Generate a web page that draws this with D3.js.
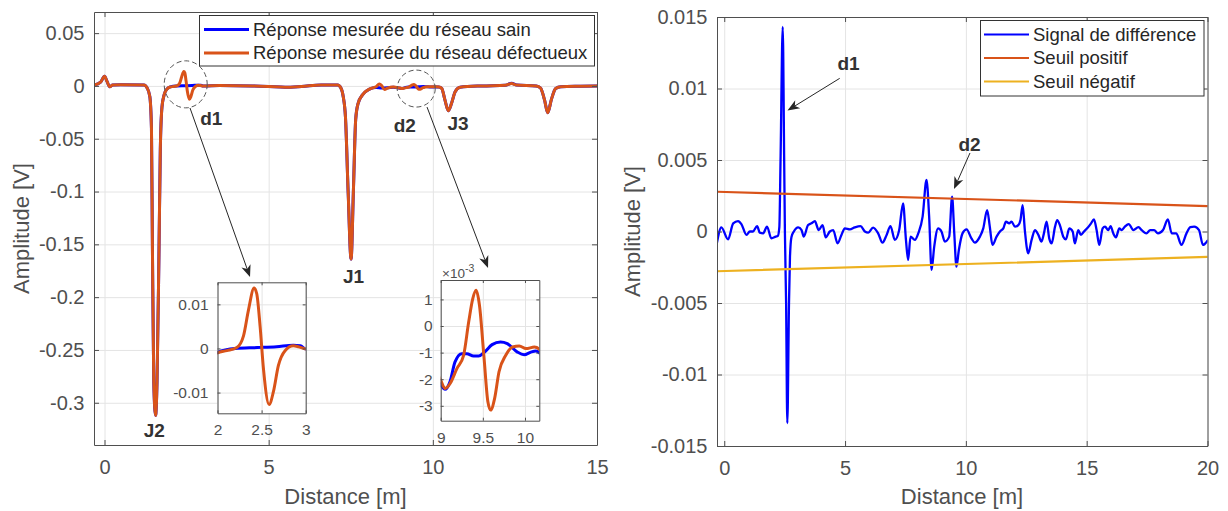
<!DOCTYPE html>
<html lang="fr">
<head>
<meta charset="utf-8">
<script src="https://cdn.jsdelivr.net/npm/d3@7/dist/d3.min.js"></script>
<style>
html,body{margin:0;padding:0;background:#fff;}
svg{display:block;}
</style>
</head>
<body>
<svg id="chart" width="1228" height="511"></svg>
<script>
// ================= DATA =================
// Left panel : measured reflectograms [distance (m), amplitude (V)]
const reseauSain = [
  [-0.32,0.0008],[-0.12,0.0035],[0.00,0.0092],[0.08,0.0040],[0.16,-0.0008],[0.25,0.0008],
  [0.50,0.0012],[1.20,0.0008],[1.30,-0.0020],[1.38,-0.0100],[1.43,-0.0400],[1.46,-0.1550],
  [1.50,-0.2800],[1.555,-0.3120],[1.60,-0.2800],[1.66,-0.1550],[1.70,-0.0600],[1.75,-0.0200],
  [1.82,-0.0080],[1.90,-0.0030],[2.00,-0.0009],[2.20,0.0000],[2.45,0.0002],[2.67,0.0004],
  [2.86,0.0007],[2.94,0.0006],[3.00,-0.0001],[3.50,0.0003],[4.50,0.0000],[5.00,-0.0005],
  [5.50,-0.0012],[6.00,-0.0005],[6.60,0.0008],[7.10,0.0008],[7.20,-0.0020],[7.27,-0.0100],
  [7.34,-0.0300],[7.42,-0.1000],[7.51,-0.1640],[7.58,-0.1000],[7.65,-0.0320],[7.72,-0.0170],
  [7.87,-0.0080],[8.07,-0.0030],[8.27,-0.0015],[8.45,-0.0020],[8.62,-0.0018],[8.80,-0.0013],
  [9.00,-0.00222],[9.05,-0.00238],[9.11,-0.0021],[9.17,-0.00135],[9.25,-0.00104],[9.31,-0.00104],
  [9.39,-0.00113],[9.45,-0.00113],[9.52,-0.00098],[9.61,-0.0007],[9.71,-0.0006],[9.79,-0.00066],
  [9.91,-0.00098],[9.99,-0.00108],[10.07,-0.00098],[10.13,-0.00094],[10.18,-0.00104],
  [10.27,-0.0023],[10.37,-0.0134],[10.47,-0.0235],[10.57,-0.0165],[10.68,-0.0055],[10.83,-0.0013],
  [11.50,0.0000],[12.20,0.0006],[12.40,0.0025],[12.55,0.0008],[13.15,0.0000],[13.28,-0.0020],
  [13.40,-0.0130],[13.50,-0.0254],[13.61,-0.0130],[13.74,-0.0025],[13.90,-0.0008],[14.50,-0.0003],
  [15.00,0.0000]
];
const reseauDefectueux = [
  [-0.32,0.0008],[-0.12,0.0035],[0.00,0.0092],[0.08,0.0040],[0.16,-0.0008],[0.25,0.0008],
  [0.50,0.0012],[1.20,0.0008],[1.30,-0.0020],[1.38,-0.0100],[1.43,-0.0400],[1.46,-0.1550],
  [1.50,-0.2800],[1.555,-0.3120],[1.60,-0.2800],[1.66,-0.1550],[1.70,-0.0600],[1.75,-0.0200],
  [1.82,-0.0080],[1.90,-0.0030],[2.00,-0.0010],[2.106,-0.0005],[2.219,0.0002],[2.294,0.0028],
  [2.351,0.0087],[2.415,0.0137],[2.445,0.0124],[2.483,0.0050],[2.521,-0.0046],[2.585,-0.0127],
  [2.634,-0.0098],[2.69,-0.0039],[2.766,-0.0005],[2.86,0.0006],[2.917,0.0004],[3.00,-0.0001],
  [3.50,0.0003],[4.50,0.0000],[5.00,-0.0005],[5.50,-0.0012],[6.00,-0.0005],[6.60,0.0008],
  [7.10,0.0008],[7.20,-0.0020],[7.27,-0.0100],[7.34,-0.0300],[7.42,-0.1000],[7.51,-0.1640],
  [7.58,-0.1000],[7.65,-0.0320],[7.72,-0.0170],[7.87,-0.0080],[8.07,-0.0030],[8.27,-0.0008],
  [8.37,0.0018],[8.45,0.0000],[8.53,-0.0035],[8.62,-0.0020],[8.80,-0.0010],[9.00,-0.00204],
  [9.052,-0.00235],[9.112,-0.00216],[9.192,-0.0016],[9.272,-0.0011],[9.332,0.00015],[9.38,0.00102],
  [9.42,0.00134],[9.46,0.00078],[9.512,-0.0011],[9.56,-0.00285],[9.592,-0.00316],[9.64,-0.00272],
  [9.692,-0.00172],[9.772,-0.0011],[9.852,-0.00079],[9.932,-0.00075],[10.012,-0.00085],
  [10.112,-0.00079],[10.184,-0.00091],[10.27,-0.0023],[10.37,-0.0134],[10.47,-0.0235],
  [10.57,-0.0165],[10.68,-0.0055],[10.83,-0.0013],[11.50,0.0000],[12.20,0.0006],[12.40,0.0022],
  [12.55,0.0008],[13.15,0.0000],[13.28,-0.0020],[13.40,-0.0130],[13.50,-0.0254],[13.61,-0.0130],
  [13.74,-0.0025],[13.90,-0.0008],[14.50,-0.0003],[15.00,0.0000]
];

// Right panel : difference signal [distance (m), amplitude (V)]
const signalDifference = [
  [-0.30,-0.00078],[-0.12,0.00029],[0.16,-0.00055],[0.37,0.00057],[0.57,0.00073],[0.71,0.00052],
  [0.92,-0.00024],[1.06,0.0],[1.19,0.0],[1.36,0.00038],[1.47,-0.00008],[1.61,-0.00013],
  [1.77,0.00034],[1.95,-0.00048],[2.13,-0.00036],[2.22,-0.0003],[2.28,0.0003],[2.33,0.005],
  [2.42,0.0143],[2.48,0.005],[2.51,0.0],[2.56,-0.005],[2.61,-0.0134],[2.68,-0.005],[2.72,-0.0018],
  [2.78,-0.0004],[2.88,0.0],[3.06,0.00029],[3.20,0.0001],[3.29,-0.00036],[3.47,0.00045],
  [3.61,0.00057],[3.75,0.00073],[3.91,0.0001],[4.07,0.00045],[4.20,-0.00041],[4.37,0.0],
  [4.51,0.0001],[4.69,-0.00083],[4.85,-0.00024],[4.99,0.00022],[5.20,0.00015],[5.40,0.00029],
  [5.64,0.00038],[5.82,0.0],[5.96,-0.00008],[6.16,0.00027],[6.37,-0.00013],[6.55,-0.00078],
  [6.72,-0.00024],[6.88,0.00038],[7.06,-0.00059],[7.24,0.0001],[7.40,0.00197],[7.52,-0.00059],
  [7.61,-0.00199],[7.71,-0.00036],[7.89,-0.00059],[8.03,-0.00013],[8.21,0.00104],[8.37,0.0036],
  [8.48,0.00104],[8.58,-0.00269],[8.69,-0.00106],[8.85,0.00022],[8.99,0.0],[9.13,-0.00071],
  [9.31,-0.00036],[9.43,0.00244],[9.52,-0.00013],[9.61,-0.00246],[9.71,-0.00129],[9.86,-0.00013],
  [10.03,0.00015],[10.23,-0.00048],[10.37,-0.00078],[10.58,-0.00036],[10.72,0.00022],[10.88,0.0015],
  [10.99,0.00034],[11.10,-0.00094],[11.27,-0.00036],[11.41,0.0],[11.55,0.00022],[11.66,0.00069],
  [11.79,0.00057],[11.89,0.00069],[12.03,0.00034],[12.17,0.00045],[12.26,0.0008],[12.35,0.00185],
  [12.44,0.0001],[12.58,-0.00153],[12.72,-0.00059],[12.86,0.0001],[13.00,-0.00024],[13.13,-0.00071],
  [13.23,-0.00013],[13.34,0.00069],[13.45,-0.00048],[13.55,-0.00083],[13.69,0.00034],[13.78,0.0008],
  [13.89,0.00045],[14.03,-0.00036],[14.14,-0.00055],[14.28,0.00022],[14.42,0.0],[14.51,-0.00083],
  [14.65,0.0001],[14.76,-0.00024],[14.89,0.0],[15.02,0.00022],[15.18,0.00057],[15.30,0.00085],
  [15.41,0.0001],[15.52,-0.00094],[15.66,0.00022],[15.76,0.00034],[15.89,0.0001],[15.99,0.00038],
  [16.10,-0.00013],[16.21,-0.00041],[16.35,0.00022],[16.45,0.0001],[16.58,0.00034],[16.74,0.00052],
  [16.93,0.0001],[17.14,0.0003],[17.30,0.00006],[17.47,-0.00013],[17.63,0.0001],[17.79,0.0001],
  [17.95,-0.00013],[18.16,0.0001],[18.36,0.00085],[18.52,-0.00013],[18.71,-0.00013],[18.92,-0.00094],
  [19.13,-0.00013],[19.29,0.0003],[19.45,0.00034],[19.65,0.0001],[19.81,-0.00094],[20.00,-0.00064]
];
const seuilDistance = [-0.3, 20];
const seuilPositif = [0.00278, 0.00178];
const seuilNegatif = [-0.00278, -0.00178];

// Tick values and labels
const gaucheXTicks = [0, 5, 10, 15];
const gaucheXLabels = ["0", "5", "10", "15"];
const gaucheYTicks = [0.05, 0, -0.05, -0.1, -0.15, -0.2, -0.25, -0.3];
const gaucheYLabels = ["0.05", "0", "-0.05", "-0.1", "-0.15", "-0.2", "-0.25", "-0.3"];
const droiteXTicks = [0, 5, 10, 15, 20];
const droiteXLabels = ["0", "5", "10", "15", "20"];
const droiteYTicks = [0.015, 0.01, 0.005, 0, -0.005, -0.01, -0.015];
const droiteYLabels = ["0.015", "0.01", "0.005", "0", "-0.005", "-0.01", "-0.015"];
const zoom1XTicks = [2, 2.5, 3];
const zoom1XLabels = ["2", "2.5", "3"];
const zoom1YTicks = [0.01, 0, -0.01];
const zoom1YLabels = ["0.01", "0", "-0.01"];
const zoom2XTicks = [9, 9.5, 10];
const zoom2XLabels = ["9", "9.5", "10"];
const zoom2YTicks = [0.001, 0, -0.001, -0.002, -0.003];
const zoom2YLabels = ["1", "0", "-1", "-2", "-3"];

// Texts
const legendeGauche = ["Réponse mesurée du réseau sain", "Réponse mesurée du réseau défectueux"];
const legendeDroite = ["Signal de différence", "Seuil positif", "Seuil négatif"];
const axeX = "Distance [m]";
const axeY = "Amplitude [V]";

// Annotations (in data coordinates of each main panel)
const etiquettesGauche = [
  {t: "d1", x: 3.253, y: -0.0370}, {t: "d2", x: 9.147, y: -0.0437},
  {t: "J3", x: 10.768, y: -0.0422}, {t: "J1", x: 7.582, y: -0.1862},
  {t: "J2", x: 1.514, y: -0.3325}
];
const cerclesGauche = [{x: 2.473, y: 0.0015, rx: 21.5, ry: 23.5}, {x: 9.494, y: -0.0025, rx: 19, ry: 18.5}];
const flechesGauche = [
  {x1: 2.604, y1: -0.0209, x2: 4.432, y2: -0.1810},
  {x1: 9.823, y1: -0.0200, x2: 11.681, y2: -0.1724}
];
const etiquettesDroite = [{t: "d1", x: 5.142, y: 0.01129}, {t: "d2", x: 10.15, y: 0.00563}];
const flechesDroite = [
  {x1: 4.778, y1: 0.01071, x2: 2.618, y2: 0.00846},
  {x1: 10.17, y1: 0.00549, x2: 9.508, y2: 0.00297}
];

// ================= DRAWING =================
const FONT = '"Liberation Sans", Arial, Helvetica, sans-serif';
const TXT = "#4f4f4f";
const AXC = "#4f4f4f";
const GRID = "#e4e4e4";
const BLUE = "#0000ff", ORANGE = "#d95319", YELLOW = "#edb120";
const LEG_FS = 18.5;
const svg = d3.select("#chart");
let clipCount = 0;

function makeAxes(o) {
  const g = svg.append("g");
  const x = d3.scaleLinear().domain(o.xDom).range([o.x0, o.x1]);
  const y = d3.scaleLinear().domain(o.yDom).range([o.y1, o.y0]);
  const w = o.x1 - o.x0, h = o.y1 - o.y0;
  g.append("rect").attr("x", o.x0).attr("y", o.y0).attr("width", w).attr("height", h).attr("fill", "#fff");
  // grid
  g.append("g").attr("transform", `translate(0,${o.y1})`)
    .call(d3.axisBottom(x).tickValues(o.xTicks).tickSize(-h).tickFormat(""))
    .call(s => { s.select(".domain").remove(); s.selectAll("line").attr("stroke", GRID).attr("stroke-width", 1); });
  g.append("g").attr("transform", `translate(${o.x0},0)`)
    .call(d3.axisLeft(y).tickValues(o.yTicks).tickSize(-w).tickFormat(""))
    .call(s => { s.select(".domain").remove(); s.selectAll("line").attr("stroke", GRID).attr("stroke-width", 1); });
  const id = "clip" + (clipCount++);
  svg.append("defs").append("clipPath").attr("id", id)
    .append("rect").attr("x", o.x0).attr("y", o.y0).attr("width", w).attr("height", h);
  const data = g.append("g").attr("clip-path", `url(#${id})`);
  const axes = g.append("g");
  const style = s => {
    s.attr("font-family", FONT).attr("font-size", o.fs);
    s.select(".domain").attr("stroke", AXC).attr("stroke-width", 1);
    s.selectAll(".tick line").attr("stroke", AXC).attr("stroke-width", 1);
    s.selectAll(".tick text").attr("fill", TXT);
  };
  axes.append("g").attr("transform", `translate(0,${o.y1})`)
    .call(d3.axisBottom(x).tickValues(o.xTicks).tickFormat((d, i) => o.xLabels[i])
      .tickSizeInner(-o.tick).tickSizeOuter(0).tickPadding(o.padX)).call(style);
  axes.append("g").attr("transform", `translate(0,${o.y0})`)
    .call(d3.axisTop(x).tickValues(o.xTicks).tickFormat("").tickSizeInner(-o.tick).tickSizeOuter(0)).call(style);
  axes.append("g").attr("transform", `translate(${o.x0},0)`)
    .call(d3.axisLeft(y).tickValues(o.yTicks).tickFormat((d, i) => o.yLabels[i])
      .tickSizeInner(-o.tick).tickSizeOuter(0).tickPadding(o.padY)).call(style);
  axes.append("g").attr("transform", `translate(${o.x1},0)`)
    .call(d3.axisRight(y).tickValues(o.yTicks).tickFormat("").tickSizeInner(-o.tick).tickSizeOuter(0)).call(style);
  return {g, x, y, data, axes, o};
}

function drawLine(ax, pts, color, width) {
  const line = d3.line().x(d => ax.x(d[0])).y(d => ax.y(d[1])).curve(d3.curveMonotoneX);
  ax.data.append("path").datum(pts).attr("d", line).attr("fill", "none")
    .attr("stroke", color).attr("stroke-width", width)
    .attr("stroke-linejoin", "round").attr("stroke-linecap", "round");
}

function arrow(g, x1, y1, x2, y2) {
  const dx = x2 - x1, dy = y2 - y1, len = Math.hypot(dx, dy);
  const ux = dx / len, uy = dy / len, nx = -uy, ny = ux;
  const L = 12, Wd = 4.8;
  const bx = x2 - L * ux, by = y2 - L * uy;
  const mx = x2 - L * 0.72 * ux, my = y2 - L * 0.72 * uy;
  g.append("line").attr("x1", x1).attr("y1", y1).attr("x2", mx).attr("y2", my)
    .attr("stroke", "#262626").attr("stroke-width", 1);
  g.append("path").attr("d", `M${x2},${y2}L${bx + Wd * nx},${by + Wd * ny}L${mx},${my}L${bx - Wd * nx},${by - Wd * ny}Z`)
    .attr("fill", "#262626");
}

function axisTitles(cx, cy, xBase, yCx) {
  svg.append("text").attr("x", cx).attr("y", xBase).attr("text-anchor", "middle")
    .attr("font-family", FONT).attr("font-size", 22).attr("fill", TXT).text(axeX);
  svg.append("text").attr("transform", `translate(${yCx},${cy}) rotate(-90)`).attr("text-anchor", "middle")
    .attr("dy", "0.35em").attr("font-family", FONT).attr("font-size", 22).attr("fill", TXT).text(axeY);
}

// ---------- Left panel ----------
const L = makeAxes({x0: 94, x1: 597, y0: 12, y1: 445, xDom: [-0.32, 15], yDom: [-0.34, 0.07],
  xTicks: gaucheXTicks, xLabels: gaucheXLabels, yTicks: gaucheYTicks, yLabels: gaucheYLabels,
  fs: 20, tick: 5, padX: 15, padY: 9.5});
drawLine(L, reseauSain, BLUE, 3);
drawLine(L, reseauDefectueux, ORANGE, 3);
axisTitles(345.5, 228.5, 504, 21);

// legend left
const lg = svg.append("g");
lg.append("rect").attr("x", 199.5).attr("y", 15.5).attr("width", 395).attr("height", 50.5)
  .attr("fill", "#fff").attr("stroke", "#333").attr("stroke-width", 1);
[BLUE, ORANGE].forEach((c, i) => {
  const yy = 29.5 + i * 23.5;
  lg.append("line").attr("x1", 204).attr("x2", 249).attr("y1", yy).attr("y2", yy).attr("stroke", c).attr("stroke-width", 3);
  lg.append("text").attr("x", 253).attr("y", yy).attr("dy", "0.35em").attr("font-family", FONT)
    .attr("font-size", LEG_FS).attr("fill", "#262626").text(legendeGauche[i]);
});

// annotations left
const an = svg.append("g");
cerclesGauche.forEach(c => an.append("ellipse").attr("cx", L.x(c.x)).attr("cy", L.y(c.y))
  .attr("rx", c.rx).attr("ry", c.ry).attr("fill", "none").attr("stroke", "#555")
  .attr("stroke-width", 1).attr("stroke-dasharray", "5,3"));
flechesGauche.forEach(f => arrow(an, L.x(f.x1), L.y(f.y1), L.x(f.x2), L.y(f.y2)));
etiquettesGauche.forEach(e => an.append("text").attr("x", L.x(e.x)).attr("y", L.y(e.y))
  .attr("text-anchor", "middle").attr("font-family", FONT).attr("font-size", 19)
  .attr("font-weight", "bold").attr("fill", "#333").text(e.t));

// insets
const Z1 = makeAxes({x0: 217.5, x1: 305.7, y0: 282.3, y1: 413.3, xDom: [2, 3], yDom: [-0.0147, 0.015],
  xTicks: zoom1XTicks, xLabels: zoom1XLabels, yTicks: zoom1YTicks, yLabels: zoom1YLabels,
  fs: 15.5, tick: 3, padX: 11, padY: 9});
drawLine(Z1, reseauSain, BLUE, 3);
drawLine(Z1, reseauDefectueux, ORANGE, 3);

const Z2 = makeAxes({x0: 440.7, x1: 539.3, y0: 280, y1: 420.7, xDom: [9, 10.17], yDom: [-0.00356, 0.00173],
  xTicks: zoom2XTicks, xLabels: zoom2XLabels, yTicks: zoom2YTicks, yLabels: zoom2YLabels,
  fs: 15.5, tick: 3, padX: 11, padY: 8});
drawLine(Z2, reseauSain, BLUE, 3);
drawLine(Z2, reseauDefectueux, ORANGE, 3);
const ex = svg.append("text").attr("x", 442).attr("y", 277.5).attr("font-family", FONT)
  .attr("font-size", 13.5).attr("fill", TXT);
ex.append("tspan").text("×10");
ex.append("tspan").attr("dy", -6).attr("font-size", 10.5).text("-3");

// ---------- Right panel ----------
const R = makeAxes({x0: 717, x1: 1207.5, y0: 17, y1: 446, xDom: [-0.3, 20], yDom: [-0.015, 0.015],
  xTicks: droiteXTicks, xLabels: droiteXLabels, yTicks: droiteYTicks, yLabels: droiteYLabels,
  fs: 20, tick: 5, padX: 15, padY: 9.5});
drawLine(R, signalDifference, BLUE, 2.3);
drawLine(R, seuilDistance.map((d, i) => [d, seuilPositif[i]]), ORANGE, 2.2);
drawLine(R, seuilDistance.map((d, i) => [d, seuilNegatif[i]]), YELLOW, 2.2);
axisTitles(962, 231.5, 504, 632);

const rg = svg.append("g");
rg.append("rect").attr("x", 980.5).attr("y", 20.5).attr("width", 223.5).attr("height", 75.5)
  .attr("fill", "#fff").attr("stroke", "#333").attr("stroke-width", 1);
[BLUE, ORANGE, YELLOW].forEach((c, i) => {
  const yy = 34.5 + i * 23.5;
  rg.append("line").attr("x1", 984).attr("x2", 1029).attr("y1", yy).attr("y2", yy).attr("stroke", c).attr("stroke-width", 2.2);
  rg.append("text").attr("x", 1033).attr("y", yy).attr("dy", "0.35em").attr("font-family", FONT)
    .attr("font-size", LEG_FS).attr("fill", "#262626").text(legendeDroite[i]);
});
const ar = svg.append("g");
flechesDroite.forEach(f => arrow(ar, R.x(f.x1), R.y(f.y1), R.x(f.x2), R.y(f.y2)));
etiquettesDroite.forEach(e => ar.append("text").attr("x", R.x(e.x)).attr("y", R.y(e.y))
  .attr("text-anchor", "middle").attr("font-family", FONT).attr("font-size", 19)
  .attr("font-weight", "bold").attr("fill", "#333").text(e.t));
</script>
</body>
</html>
